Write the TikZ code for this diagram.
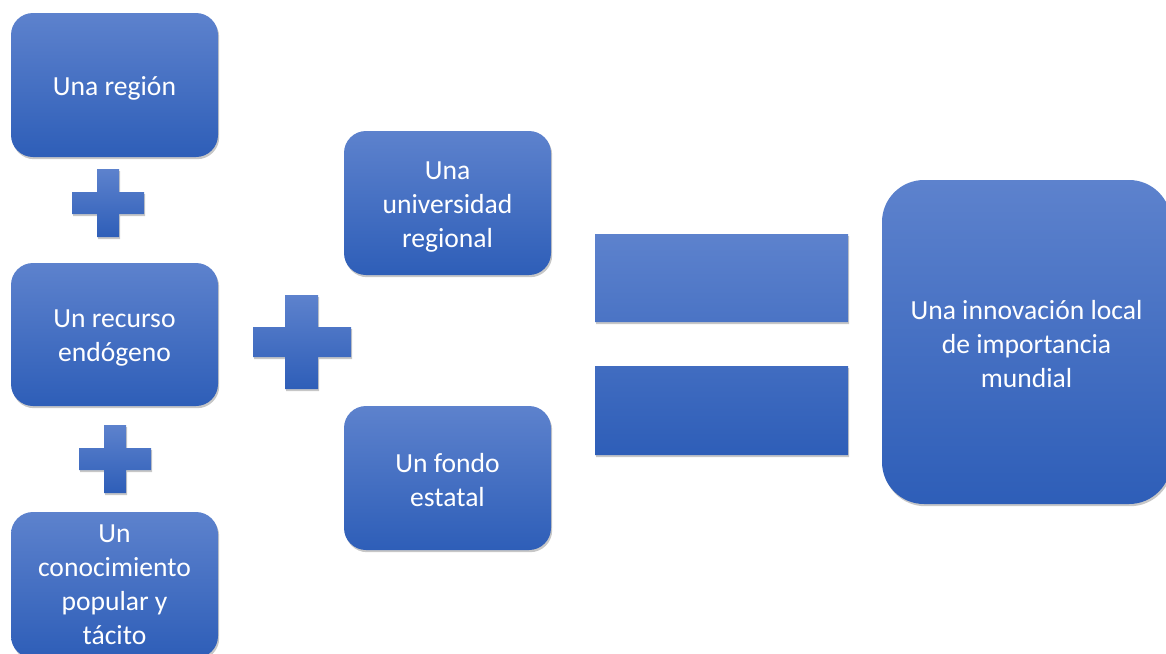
\documentclass[tikz,border=0pt]{standalone}
\usepackage{fontspec}
\setmainfont{Carlito}
\usetikzlibrary{shadows}
\definecolor{btop}{RGB}{93,130,205}
\definecolor{bbot}{RGB}{46,94,184}
\tikzset{
  shade/.style={top color=btop, bottom color=bbot, draw=none},
  shd/.style={drop shadow={opacity=0.22, fill=black, shadow xshift=1.2pt, shadow yshift=-2.2pt}},
  boxshape/.style={shade, shd, rounded corners=22pt},
  bigshape/.style={shade, shd, rounded corners=42pt},
  txt/.style={text=white, align=center, font=\fontsize{27.6}{34}\selectfont, inner sep=0pt},
  sym/.style={shade, shd}
}
\begin{document}
\begin{tikzpicture}[x=1pt,y=-1pt]
\clip (0,0) rectangle (1166,653);
\fill[white] (0,0) rectangle (1166,653);

% left column
\path[boxshape] (11,13) rectangle (218,157);
\node[txt] (region) at (114.5,88) {Una región};
\path[boxshape] (11,263) rectangle (218,406);
\node[txt] (recurso) at (114.5,338) {Un recurso\\endógeno};
\path[boxshape] (11,512) rectangle (218,658);
\node[txt] (conoc) at (114.5,585) {Un\\conocimiento\\popular y\\tácito};

% plus signs
\path[sym] (97,169) -- (119,169) -- (119,192) -- (144,192) -- (144,214) -- (119,214)
  -- (119,237) -- (97,237) -- (97,214) -- (72,214) -- (72,192) -- (97,192) -- cycle;
\path[sym] (104,425) -- (126,425) -- (126,448) -- (151,448) -- (151,470) -- (126,470)
  -- (126,493) -- (104,493) -- (104,470) -- (79,470) -- (79,448) -- (104,448) -- cycle;
\path[sym] (285,295) -- (318,295) -- (318,327) -- (351,327) -- (351,357) -- (318,357)
  -- (318,389) -- (285,389) -- (285,357) -- (253,357) -- (253,327) -- (285,327) -- cycle;

% middle column
\path[boxshape] (344,131) rectangle (551,275);
\node[txt] (univ) at (447.5,207) {Una\\universidad\\regional};
\path[boxshape] (344,406) rectangle (551,550);
\node[txt] (fondo) at (447.5,480) {Un fondo\\estatal};

% equals sign
\path[sym] (595,234) rectangle (848,322) (595,366) rectangle (848,455);

% result
\path[bigshape] (882,180) rectangle (1171,504);
\node[txt] (innov) at (1026.5,344) {Una innovación local\\de importancia\\mundial};
\end{tikzpicture}
\end{document}
